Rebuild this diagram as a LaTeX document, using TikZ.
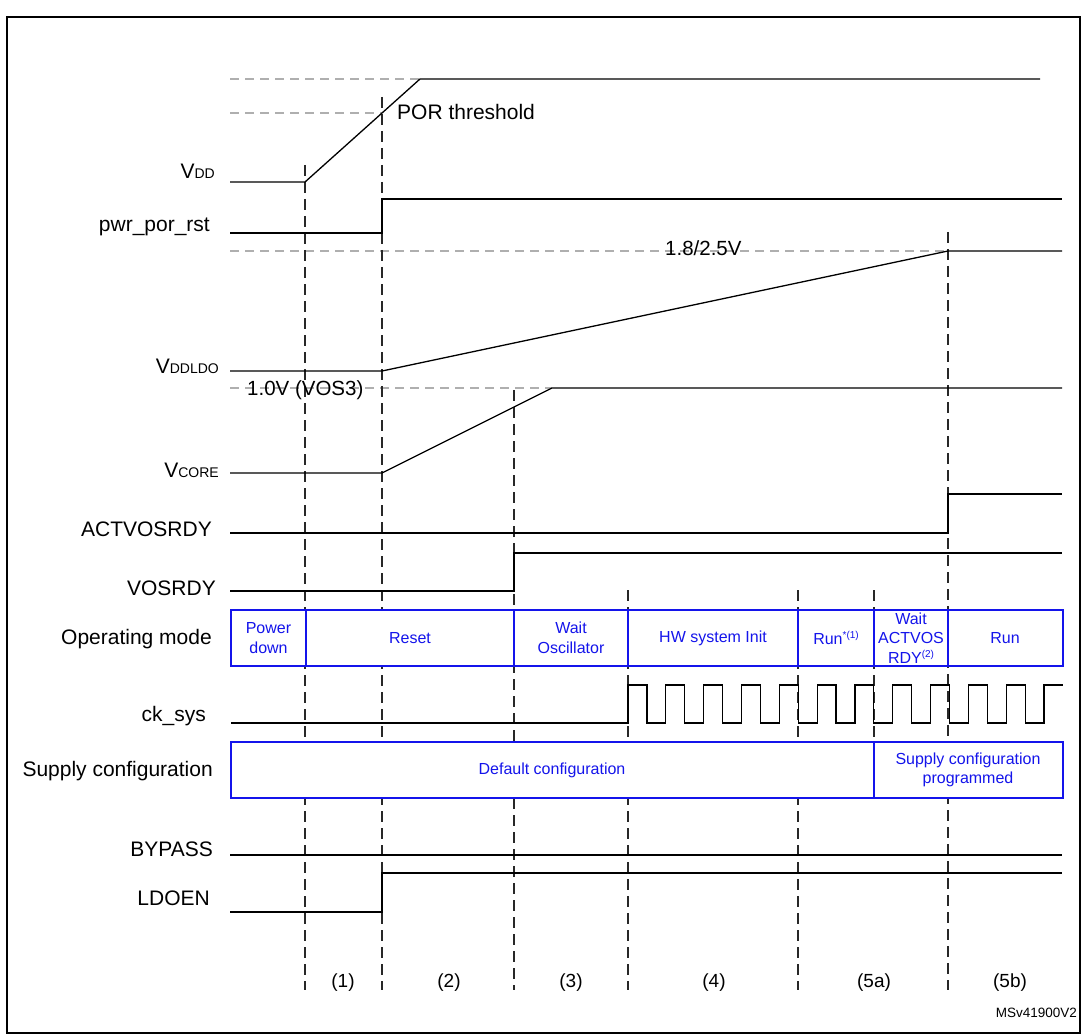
\documentclass[tikz,border=0pt]{standalone}
\usepackage{fontspec}
\setmainfont{Liberation Sans}
\definecolor{boxblue}{RGB}{20,20,235}
\definecolor{refgray}{RGB}{175,175,175}
\definecolor{vdash}{RGB}{40,40,40}
\newcommand{\lblfont}{\fontsize{21}{24}\selectfont}
\newcommand{\subfnt}[1]{{\fontsize{14}{14}\selectfont #1}}
\newcommand{\supfnt}[1]{\raisebox{6pt}{\fontsize{10}{10}\selectfont #1}}
\begin{document}
\begin{tikzpicture}[x=1pt,y=-1pt,
  sig/.style={line width=1.3pt,black},
  refline/.style={line width=1.3pt,refgray,dash pattern=on 9pt off 6pt},
  tline/.style={line width=1.3pt,vdash,dash pattern=on 11pt off 6pt},
  bx/.style={line width=1.4pt,boxblue,fill=white},
  lbl/.style={anchor=base east,font=\lblfont,inner sep=0pt},
  btxt/.style={text=boxblue,font=\fontsize{16}{19.5}\selectfont,align=center,inner sep=0pt},
  plbl/.style={anchor=base,font=\fontsize{19}{22}\selectfont,inner sep=0pt}]
\useasboundingbox (0,0) rectangle (1082,1035);
\draw[line width=2pt] (7,17) rectangle (1080,1033);

% reference dashed lines
\draw[refline] (230,79) -- (420,79);
\draw[refline] (230,113) -- (382,113);
\draw[refline] (230,251) -- (948,251);
\draw[refline] (230,388) -- (552,388);

% time markers
\draw[tline] (305,165) -- (305,990);
\draw[tline] (382,97) -- (382,990);
\draw[tline] (514,390) -- (514,990);
\draw[tline] (628,590) -- (628,990);
\draw[tline] (798,590) -- (798,990);
\draw[tline] (874,590) -- (874,742);
\draw[tline] (948,232) -- (948,990);

% labels
\node[lbl] (lvdd) at (215,179) {V\subfnt{DD}};
\node[lbl] (lpor) at (210,232) {pwr\_por\_rst};
\node[lbl] (lldo) at (219,373) {V\subfnt{DDLDO}};
\node[lbl] (lcore) at (219,477) {V\subfnt{CORE}};
\node[lbl] (lact) at (212,536) {ACTVOSRDY};
\node[lbl] (lvos) at (216,595) {VOSRDY};
\node[lbl] (lop) at (212,644) {Operating mode};
\node[lbl] (lck) at (206,721) {ck\_sys};
\node[lbl] (lsup) at (213,776) {Supply configuration};
\node[lbl] (lbyp) at (213,856) {BYPASS};
\node[lbl] (lldoen) at (210,905) {LDOEN};

% signals
\draw[sig] (230,182) -- (305,182) -- (420,79) -- (1040,79);
\draw[sig] (230,233) -- (382,233) -- (382,199) -- (1062,199);
\draw[sig] (230,371) -- (382,371) -- (948,251) -- (1062,251);
\draw[sig] (230,473) -- (382,473) -- (552,388) -- (1062,388);
\draw[sig] (230,533) -- (948,533) -- (948,494) -- (1062,494);
\draw[sig] (230,591) -- (514,591) -- (514,553) -- (1062,553);
\draw[sig] (230,855) -- (1062,855);
\draw[sig] (230,912) -- (382,912) -- (382,873) -- (1062,873);

\node[anchor=base west,font=\lblfont,inner sep=0pt] (por) at (397,120) {POR threshold};
\node[anchor=base west,font=\fontsize{20.5}{24}\selectfont,inner sep=0pt] (v18) at (665,256) {1.8/2.5V};
\node[anchor=base west,font=\fontsize{20.5}{24}\selectfont,inner sep=0pt] (v10) at (247,395) {1.0V (VOS3)};

% operating mode boxes
\draw[bx] (231,610) rectangle (1063,666);
\foreach \x in {306,514,628,798,874,948} \draw[bx,fill=none] (\x,610) -- (\x,666);
\node[btxt] (m1) at (268.5,638) {Power\\down};
\node[btxt] (m2) at (410,638) {Reset};
\node[btxt] (m3) at (571,638) {Wait\\Oscillator};
\node[btxt] (m4) at (713,638) {HW system Init};
\node[btxt] (m5) at (836,638) {Run\supfnt{*(1)}};
\node[btxt] (m6) at (911,638) {Wait\\ACTVOS\\RDY\supfnt{(2)}};
\node[btxt] (m7) at (1005,638) {Run};

% clock
\pgfmathsetmacro{\hp}{(1063-628)/23}
\draw[sig,line width=1.2pt] (231,723) -- (628,723) -- (628,685)
  \foreach \i in {1,...,11} { -- ++(\hp,0) -- ++(0,38) -- ++(\hp,0) -- ++(0,-38) } -- ++(\hp,0);

% supply configuration
\draw[bx] (231,742) rectangle (1063,798);
\draw[bx,fill=none] (874,742) -- (874,798);
\node[btxt] (s1) at (552,770) {Default configuration};
\node[btxt] (s2) at (968,770) {Supply configuration\\programmed};

% phase labels
\node[plbl] (p1) at (343,987) {(1)};
\node[plbl] (p2) at (449,987) {(2)};
\node[plbl] (p3) at (571,987) {(3)};
\node[plbl] (p4) at (714,987) {(4)};
\node[plbl] (p5a) at (874,987) {(5a)};
\node[plbl] (p5b) at (1010,987) {(5b)};
\node[anchor=base east,font=\fontsize{13.5}{16}\selectfont,inner sep=0pt] (ms) at (1077,1017) {MSv41900V2};
\end{tikzpicture}
\end{document}
